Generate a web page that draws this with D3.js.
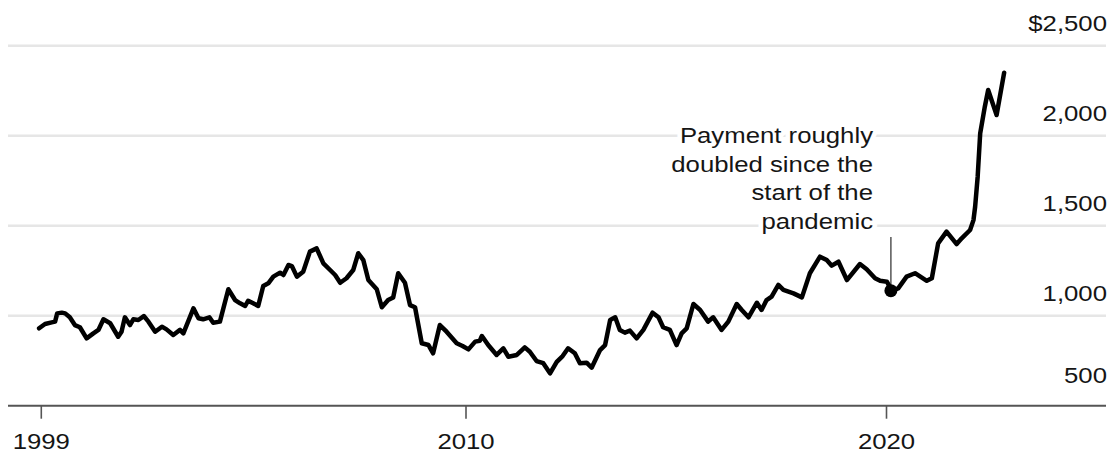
<!DOCTYPE html>
<html>
<head>
<meta charset="utf-8">
<title>Monthly payment</title>
<style>
  html, body { margin: 0; padding: 0; background: #fff; }
  svg { display: block; font-family: "Liberation Sans", Arial, Helvetica, sans-serif; }
</style>
</head>
<body>
<svg id="chart" width="1114" height="460"></svg>
<script src="https://cdn.jsdelivr.net/npm/d3@7"></script>
<script>
// values (decimal year, dollars)
var years = [
  1999.86, 2000.00, 2000.16, 2000.24, 2000.29, 2000.40, 2000.48, 2000.59, 2000.71, 2000.83,
  2000.99, 2001.15, 2001.27, 2001.39, 2001.55, 2001.74, 2001.82, 2001.90, 2002.02, 2002.10,
  2002.22, 2002.35, 2002.46, 2002.62, 2002.78, 2002.89, 2003.05, 2003.21, 2003.29, 2003.53,
  2003.65, 2003.76, 2003.91, 2004.00, 2004.16, 2004.36, 2004.52, 2004.64, 2004.76, 2004.83,
  2004.95, 2005.07, 2005.19, 2005.31, 2005.43, 2005.59, 2005.67, 2005.79, 2005.87, 2005.99,
  2006.14, 2006.30, 2006.46, 2006.62, 2006.78, 2006.90, 2007.02, 2007.17, 2007.33, 2007.45,
  2007.57, 2007.69, 2007.89, 2008.01, 2008.16, 2008.28, 2008.40, 2008.56, 2008.68, 2008.80,
  2008.96, 2009.12, 2009.23, 2009.39, 2009.55, 2009.79, 2009.93, 2010.07, 2010.23, 2010.34,
  2010.39, 2010.54, 2010.74, 2010.90, 2011.02, 2011.22, 2011.41, 2011.53, 2011.69, 2011.85,
  2012.01, 2012.17, 2012.31, 2012.44, 2012.60, 2012.72, 2012.88, 2013.00, 2013.20, 2013.32,
  2013.44, 2013.56, 2013.67, 2013.79, 2013.91, 2014.07, 2014.23, 2014.45, 2014.59, 2014.70,
  2014.86, 2015.02, 2015.14, 2015.26, 2015.42, 2015.58, 2015.77, 2015.89, 2016.09, 2016.25,
  2016.45, 2016.57, 2016.73, 2016.93, 2017.04, 2017.16, 2017.28, 2017.44, 2017.56, 2017.80,
  2018.00, 2018.19, 2018.43, 2018.59, 2018.71, 2018.87, 2019.07, 2019.38, 2019.54, 2019.74,
  2019.86, 2020.02, 2020.14, 2020.29, 2020.49, 2020.69, 2020.97, 2021.09, 2021.24, 2021.44,
  2021.68, 2021.80, 2022.00, 2022.08, 2022.12, 2022.18, 2022.24, 2022.35, 2022.43, 2022.63,
  2022.81
];
var payment = [
  930, 954, 963, 967, 1013, 1017, 1013, 991, 948, 936,
  874, 902, 921, 980, 958, 883, 911, 991, 948, 980,
  976, 998, 967, 911, 939, 924, 893, 921, 902, 1041,
  986, 980, 991, 961, 967, 1147, 1087, 1069, 1054, 1083,
  1069, 1054, 1165, 1180, 1217, 1239, 1226, 1282, 1276, 1217,
  1244, 1356, 1374, 1291, 1254, 1226, 1183, 1208, 1254, 1347,
  1309, 1198, 1147, 1047, 1087, 1101, 1236, 1183, 1059, 1047,
  847, 837, 791, 948, 911, 847, 832, 813, 856, 861,
  887, 837, 782, 819, 772, 782, 824, 800, 748, 736,
  680, 744, 776, 819, 791, 736, 739, 711, 809, 837,
  976, 991, 921, 906, 917, 874, 921, 1017, 991, 936,
  921, 837, 902, 930, 1065, 1032, 967, 991, 921, 967,
  1065, 1032, 991, 1072, 1032, 1087, 1106, 1171, 1143, 1124,
  1102, 1236, 1328, 1309, 1278, 1300, 1198, 1287, 1258, 1208,
  1194, 1189, 1139, 1152, 1217, 1236, 1194, 1208, 1402, 1467,
  1398, 1430, 1476, 1531, 1606, 1772, 2013, 2161, 2254, 2115,
  2350
];
var yTicks = [500, 1000, 1500, 2000, 2500];
var xTicks = [1999.9, 2010, 2020];
var note = ["Payment roughly", "doubled since the", "start of the", "pandemic"];
var noteYear = 2020.14, noteValue = 1139;

var data = years.map(function (d, i) { return { t: d, v: payment[i] }; });

var svg = d3.select("#chart");
var sx = 1.17; // reference type is set wider than Liberation Sans

var x = d3.scaleLinear().domain([2010, 2020]).range([465.5, 886]);
var y = d3.scaleLinear().domain([500, 2500]).range([405.7, 45.7]);
var left = 8, right = 1106;

// gridlines
svg.append("g").selectAll("line")
    .data(yTicks.filter(function (d) { return d !== 500; }))
    .enter().append("line")
    .attr("x1", left).attr("x2", right)
    .attr("y1", function (d) { return y(d); })
    .attr("y2", function (d) { return y(d); })
    .attr("stroke", "#e6e6e6")
    .attr("stroke-width", 2.5);

// y labels
svg.append("g").selectAll("text")
    .data(yTicks)
    .enter().append("text")
    .attr("transform", function (d) {
        var off = d === 500 ? 22.5 : 15;
        return "translate(1107," + (y(d) - off) + ") scale(" + sx + ",1)";
    })
    .attr("text-anchor", "end")
    .attr("font-size", 22)
    .attr("fill", "#151515")
    .text(function (d) { return (d === 2500 ? "$" : "") + d3.format(",")(d); });

// x axis
var xAxis = d3.axisBottom(x)
    .tickValues(xTicks)
    .tickSize(13)
    .tickFormat(function (d) { return Math.floor(d); });

var gx = svg.append("g")
    .attr("transform", "translate(0," + y(500) + ")")
    .call(xAxis);
gx.select(".domain").remove();
gx.selectAll(".tick line").attr("stroke", "#555").attr("stroke-width", 1.6);
gx.selectAll(".tick text")
    .attr("y", 0).attr("dy", 0)
    .attr("transform", "translate(0,43.5) scale(" + sx + ",1)")
    .attr("font-size", 22)
    .attr("font-family", null)
    .attr("fill", "#151515");

svg.append("line")
    .attr("x1", left).attr("x2", right)
    .attr("y1", y(500)).attr("y2", y(500))
    .attr("stroke", "#555")
    .attr("stroke-width", 2);

// annotation text with white halo over gridlines
svg.append("g").selectAll("text")
    .data(note)
    .enter().append("text")
    .attr("transform", function (d, i) {
        return "translate(873," + (143 + i * 28.5) + ") scale(" + sx + ",1)";
    })
    .attr("text-anchor", "end")
    .attr("font-size", 22)
    .attr("fill", "#151515")
    .attr("stroke", "#fff")
    .attr("stroke-width", 8)
    .attr("stroke-linejoin", "round")
    .attr("paint-order", "stroke")
    .text(function (d) { return d; });

svg.append("line")
    .attr("x1", x(noteYear) - 1).attr("x2", x(noteYear) - 1)
    .attr("y1", 237).attr("y2", y(noteValue))
    .attr("stroke", "#555")
    .attr("stroke-width", 1.5);

// the series
var line = d3.line()
    .x(function (d) { return x(d.t); })
    .y(function (d) { return y(d.v); });

svg.append("path")
    .datum(data)
    .attr("d", line)
    .attr("fill", "none")
    .attr("stroke", "#000")
    .attr("stroke-width", 4.5)
    .attr("stroke-linejoin", "round")
    .attr("stroke-linecap", "round");

svg.append("circle")
    .attr("cx", x(noteYear) - 1)
    .attr("cy", y(noteValue))
    .attr("r", 6.5)
    .attr("fill", "#000");
</script>
</body>
</html>
